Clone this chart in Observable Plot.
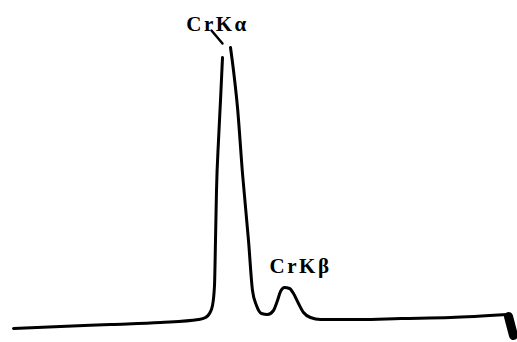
<!DOCTYPE html>
<html><head><meta charset="utf-8">
<script src="https://cdn.jsdelivr.net/npm/d3@7"></script>
<script src="https://cdn.jsdelivr.net/npm/@observablehq/plot@0.6"></script>
<style>body{margin:0;background:#fff}</style>
</head><body><div id="chart"></div>
<script>
// channel (arbitrary units) and intensity (arbitrary units)
const channel = [13,60,110,160,198,205,209,212,214,215,216,218,220,222,226,230,233,237,242,248,252,256,261,267,273,277,280,284,289,293,298,303,310,320,360,400,450,507];
const intensity = [2,4,6,8,11,13,17,25,45,90,140,190,230,273,NaN,283,260,223,157,90,40,25,17,16,20,30,39,43,42,37,27,18,13,11,11,12,13,16];
// detector end mark
const endX = [508,513];
const endY = [14,-5];
// annotation pointer to Kα peak
const ptrX = [211,222];
const ptrY = [300,287];
const labels = ["CrKα","CrKβ"];
const labelX = [217,300];
const labelY = [306,64];

const data = channel.map((c,i)=>({c, v: intensity[i]}));
const chart = Plot.plot({
  width: 517, height: 342,
  marginTop: 0, marginRight: 0, marginBottom: 0, marginLeft: 0,
  style: {letterSpacing: "2.5px"},
  x: {domain: [0,517], axis: null},
  y: {domain: [-12,330], axis: null},
  marks: [
    Plot.line(data, {x:"c", y:"v", curve:"monotone-x", stroke:"#000", strokeWidth:3}),
    Plot.line(endX.map((x,i)=>({x, y:endY[i]})), {x:"x", y:"y", stroke:"#000", strokeWidth:9, strokeLinecap:"round"}),
    Plot.line(ptrX.map((x,i)=>({x, y:ptrY[i]})), {x:"x", y:"y", stroke:"#000", strokeWidth:2.5}),
    Plot.text(labels, {x:(d,i)=>labelX[i], y:(d,i)=>labelY[i], text:d=>d, fontSize:21, fontWeight:"bold", fontFamily:"Liberation Serif", fill:"#000"})
  ]
});
document.getElementById("chart").append(chart);
</script></body></html>
